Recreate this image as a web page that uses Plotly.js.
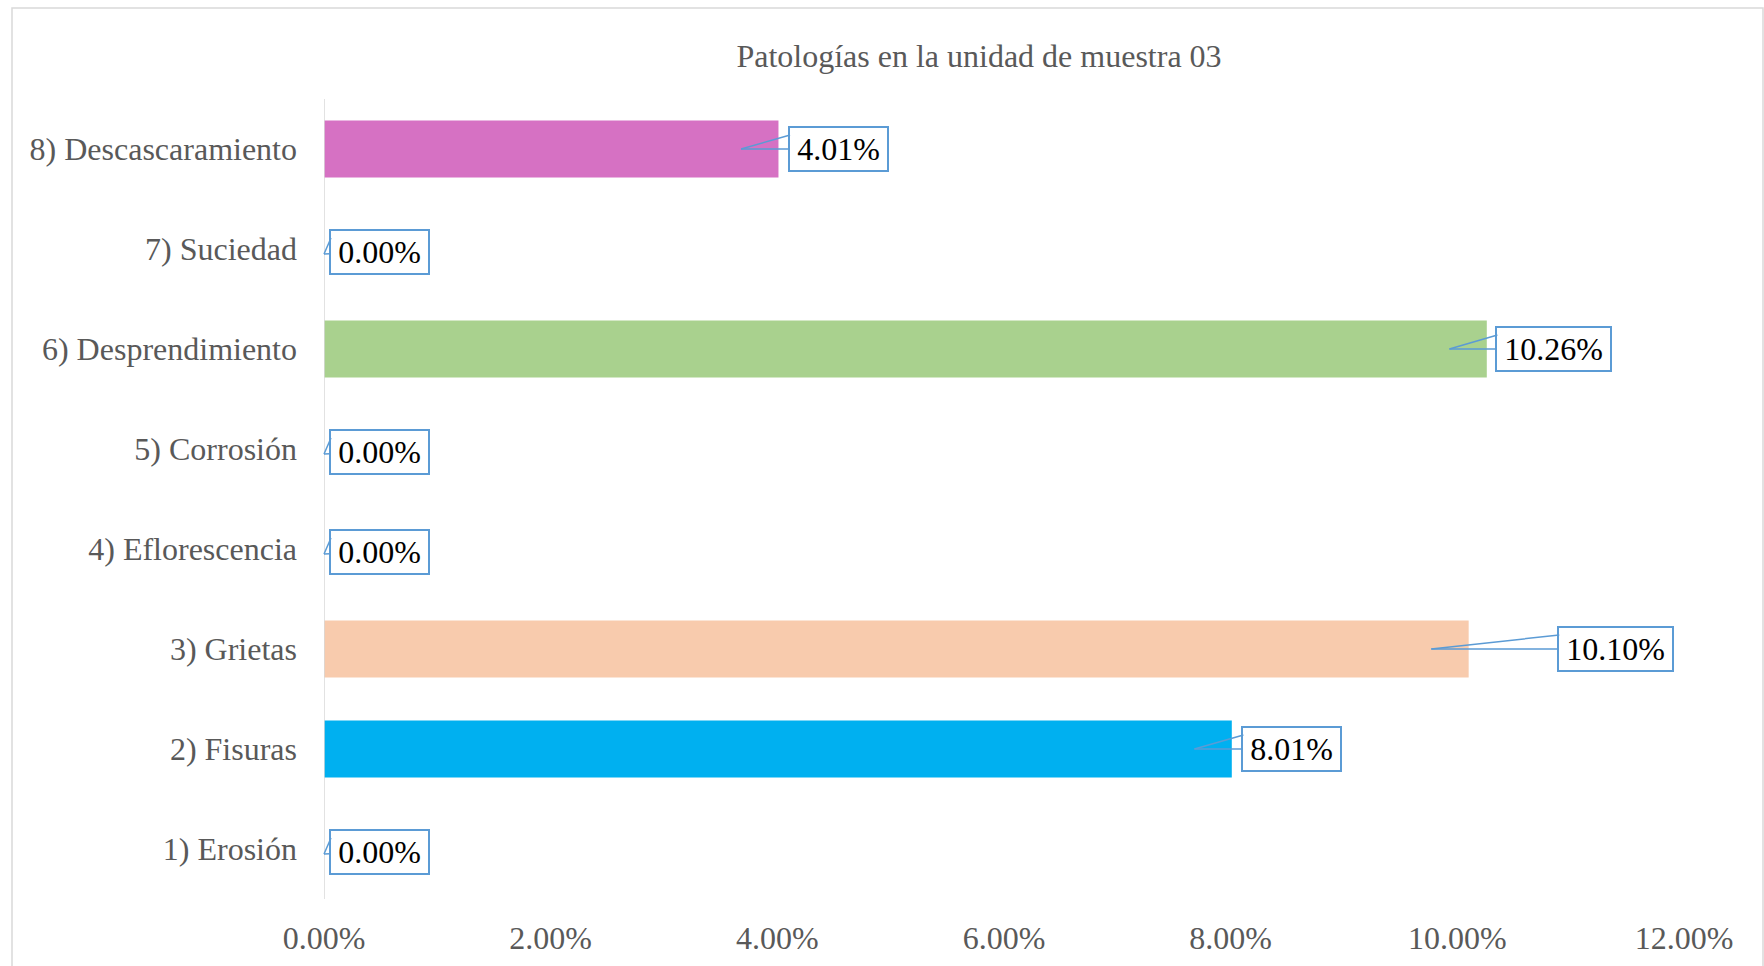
<!DOCTYPE html>
<html>
<head>
<meta charset="utf-8">
<script src="https://cdn.plot.ly/plotly-3.0.1.min.js"></script>
<style>
  html, body { margin: 0; padding: 0; background: #ffffff; }
  #chart { width: 1764px; height: 966px; }
</style>
</head>
<body>
<div id="chart"></div>
<script>
// ---- data ----
const categories = [
  "1) Erosión",
  "2) Fisuras",
  "3) Grietas",
  "4) Eflorescencia",
  "5) Corrosión",
  "6) Desprendimiento",
  "7) Suciedad",
  "8) Descascaramiento"
];
const values = [0.0000, 0.0801, 0.1010, 0.0000, 0.0000, 0.1026, 0.0000, 0.0401];
const xTickValues = [0, 0.02, 0.04, 0.06, 0.08, 0.10, 0.12];
const chartTitle = "Patologías en la unidad de muestra 03";

// ---- style ----
const barColors = ["#5B9BD5", "#00B0F0", "#F8CBAD", "#A5A5A5", "#FFC000", "#A9D18E", "#4472C4", "#D671C3"];
// horizontal pixel offset of each callout box's left edge from its leader tip
const calloutGapPx = [6, 48, 127, 6, 6, 47, 6, 48];
const FONT = "'Liberation Serif', 'Times New Roman', serif";
const FS = 32;
const CALLOUT = "#5B9BD5";

function labelText(v) { return (v * 100).toFixed(2) + "%"; }
function approxWidth(s) {
  let w = 0;
  for (const c of s) {
    if (c === ".") w += 0.25; else if (c === "%") w += 0.833; else w += 0.5;
  }
  return w * FS;
}

const trace = {
  type: "bar",
  orientation: "h",
  y: categories,
  x: values,
  width: 0.57,
  marker: { color: barColors, line: { width: 0 } },
  hoverinfo: "x+y"
};

const annotations = [];
values.forEach((v, i) => {
  const t = labelText(v);
  const tip = v > 0 ? v - 0.0033 : 0;
  const innerW = Math.round(approxWidth(t) + 12);
  const boxW = innerW + 4;
  const centerShift = calloutGapPx[i] + boxW / 2;
  const dy = v > 0 ? 0 : -2;
  const ys = v > 0 ? 0 : -5;
  // the label box, with the lower edge of its leader wedge
  annotations.push({
    x: tip, y: categories[i], xref: "x", yref: "y",
    text: t,
    showarrow: true, arrowhead: 0, arrowwidth: 1.5, arrowcolor: CALLOUT,
    standoff: 0, startstandoff: 0,
    ax: centerShift, ay: dy, yshift: ys,
    font: { family: FONT, size: FS, color: "#000000" },
    bgcolor: "#ffffff", bordercolor: CALLOUT, borderwidth: 2, borderpad: 1,
    width: innerW, height: 40, align: "center"
  });
  // upper edge of the leader wedge
  annotations.push({
    x: tip, y: categories[i], xref: "x", yref: "y",
    text: " ",
    showarrow: true, arrowhead: 0, arrowwidth: 1.5, arrowcolor: CALLOUT,
    standoff: 0, startstandoff: 0,
    ax: calloutGapPx[i] + 1, ay: dy - 14, yshift: ys,
    font: { family: FONT, size: 1, color: "rgba(0,0,0,0)" },
    bgcolor: "rgba(0,0,0,0)", borderwidth: 0, borderpad: 0
  });
});

const W = 1764, H = 966;
const mL = 324, mR = 80, mT = 99, mB = 67;
const pw = W - mL - mR, ph = H - mT - mB;

const layout = {
  width: W,
  height: H,
  margin: { l: mL, r: mR, t: mT, b: mB, pad: 0 },
  paper_bgcolor: "#ffffff",
  plot_bgcolor: "#ffffff",
  showlegend: false,
  bargap: 0.43,
  title: {
    text: chartTitle,
    font: { family: FONT, size: 32, color: "#595959" },
    x: 979 / W,
    xref: "container",
    xanchor: "center",
    y: 1 - 56 / H,
    yref: "container",
    yanchor: "middle"
  },
  xaxis: {
    range: [0, 0.12],
    tickvals: xTickValues,
    tickformat: ".2%",
    showgrid: false,
    zeroline: false,
    showline: false,
    ticks: "",
    ticklabelstandoff: 17,
    tickfont: { family: FONT, size: FS, color: "#595959" },
    fixedrange: true
  },
  yaxis: {
    type: "category",
    categoryorder: "array",
    categoryarray: categories,
    range: [-0.5, categories.length - 0.5],
    showgrid: false,
    zeroline: false,
    showline: false,
    ticks: "",
    ticklabelstandoff: 26,
    tickfont: { family: FONT, size: FS, color: "#595959" },
    fixedrange: true
  },
  shapes: [
    // vertical axis line at x = 0
    { type: "line", xref: "x", yref: "paper", x0: 0, x1: 0, y0: 0, y1: 1,
      line: { color: "#D9D9D9", width: 1.5 }, layer: "above" },
    // chart outer border
    { type: "rect", xref: "paper", yref: "paper",
      x0: (12 - mL) / pw, x1: (W - 1 - mL) / pw,
      y0: -0.2, y1: (H - mB - 8) / ph,
      line: { color: "#D9D9D9", width: 1.5 }, fillcolor: "rgba(0,0,0,0)", layer: "below" }
  ],
  annotations: annotations
};

Plotly.newPlot("chart", [trace], layout, { displayModeBar: false, staticPlot: true });
</script>
</body>
</html>
